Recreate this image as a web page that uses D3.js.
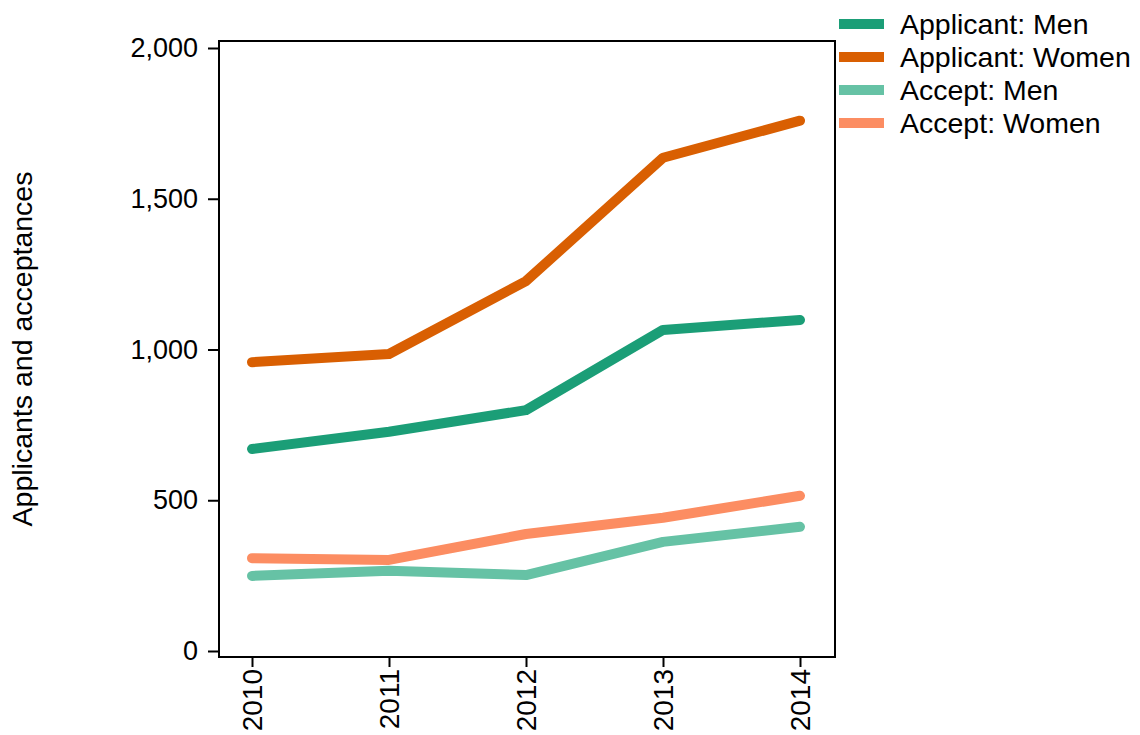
<!DOCTYPE html>
<html>
<head>
<meta charset="utf-8">
<script src="https://cdn.jsdelivr.net/npm/d3@7"></script>
<style>
  body { margin: 0; background: #fff; }
  text { font-family: "Liberation Sans", Arial, sans-serif; fill: #000; }
</style>
</head>
<body>
<div class="canvas"></div>
<script>
// data
const years = [2010, 2011, 2012, 2013, 2014];
const applicantMen = [670, 727, 799, 1065, 1098];
const applicantWomen = [958, 985, 1227, 1636, 1759];
const acceptMen = [249, 266, 252, 362, 412];
const acceptWomen = [308, 302, 388, 442, 515];
const seriesNames = ["Applicant: Men", "Applicant: Women", "Accept: Men", "Accept: Women"];
const seriesColors = ["#1b9e77", "#d95f02", "#66c2a5", "#fc8d62"];
const yTicks = [0, 500, 1000, 1500, 2000];

const series = [applicantMen, applicantWomen, acceptMen, acceptWomen];

var svg = d3.select(".canvas").append("svg").attr("width", 1140).attr("height", 735);

const x = d3.scalePoint().domain(years).range([252, 800]);
const y = d3.scaleLinear().domain([0, 2000]).range([651, 48]);

// box
svg.append("rect")
    .attr("x", 219)
    .attr("y", 41)
    .attr("width", 616)
    .attr("height", 616)
    .attr("fill", "none")
    .attr("stroke", "#000")
    .attr("stroke-width", 2);

// y axis
const yAxis = svg.append("g")
    .attr("transform", "translate(219,0)")
    .call(d3.axisLeft(y).tickValues(yTicks).tickFormat(d3.format(",")).tickSize(11).tickPadding(10));
yAxis.select(".domain").remove();
yAxis.selectAll("line").attr("stroke-width", 2);
yAxis.selectAll("text").attr("font-size", 27).style("font-family", "Liberation Sans, Arial, sans-serif");

// x axis
const xAxis = svg.append("g")
    .attr("transform", "translate(0,657)")
    .call(d3.axisBottom(x).tickFormat(d3.format("d")).tickSize(10).tickPadding(6));
xAxis.select(".domain").remove();
xAxis.selectAll("line").attr("stroke-width", 2);
xAxis.selectAll("text")
    .attr("font-size", 28)
    .style("font-family", "Liberation Sans, Arial, sans-serif")
    .attr("transform", "rotate(-90)")
    .attr("text-anchor", "end")
    .attr("x", -12)
    .attr("y", 0)
    .attr("dy", "0.35em");

// axis title
svg.append("text")
    .text("Applicants and acceptances")
    .attr("transform", "translate(22,349) rotate(-90)")
    .attr("text-anchor", "middle")
    .attr("dy", "0.35em")
    .attr("font-size", 28.5);

// lines
const line = d3.line().x((d, i) => x(years[i])).y(d => y(d));
series.forEach((s, i) => {
    svg.append("path")
        .datum(s)
        .attr("d", line)
        .attr("fill", "none")
        .attr("stroke", seriesColors[i])
        .attr("stroke-width", 10)
        .attr("stroke-linecap", "round")
        .attr("stroke-linejoin", "round");
});

// legend
seriesNames.forEach((name, i) => {
    const ly = 24 + i * 33;
    svg.append("line")
        .attr("x1", 839)
        .attr("x2", 884)
        .attr("y1", ly)
        .attr("y2", ly)
        .attr("stroke", seriesColors[i])
        .attr("stroke-width", 10);
    svg.append("text")
        .text(name)
        .attr("x", 900)
        .attr("y", ly)
        .attr("dy", "0.35em")
        .attr("font-size", 28.5);
});
</script>
</body>
</html>
